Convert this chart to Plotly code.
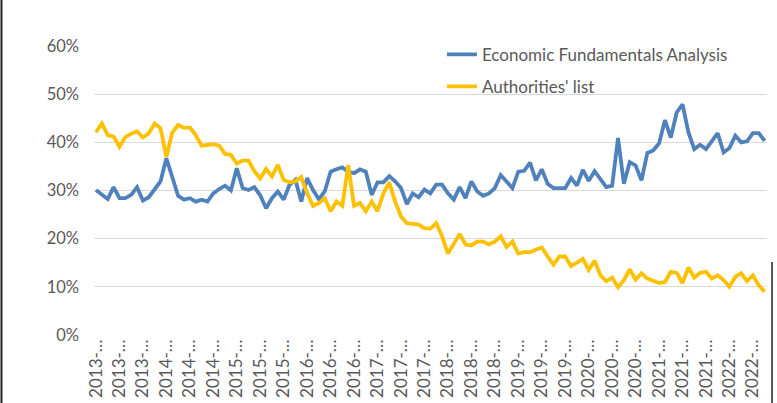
import plotly.graph_objects as go

years = list(range(2013, 2023))
months = [f"{y}-{m:02d}" for y in years for m in range(1, 13)][:115]

economic_fundamentals = [
    30.1, 29.1, 28.2, 30.7, 28.4, 28.4, 29.1, 30.7, 27.9, 28.6,
    30.3, 31.9, 36.7, 32.9, 28.9, 28.1, 28.4, 27.7, 28.1, 27.7,
    29.4, 30.3, 31.0, 30.0, 34.6, 30.5, 30.1, 30.7, 29.0, 26.3,
    28.4, 29.8, 28.1, 31.2, 32.2, 27.7, 32.6, 30.1, 28.2, 29.8,
    33.9, 34.4, 34.8, 33.9, 33.6, 34.4, 33.9, 29.1, 31.7, 31.7,
    33.0, 31.9, 30.5, 27.2, 29.4, 28.6, 30.2, 29.4, 31.2, 31.2,
    29.4, 28.1, 30.7, 28.4, 31.9, 29.8, 28.9, 29.4, 30.5, 33.2,
    31.7, 30.5, 33.9, 34.1, 35.8, 32.1, 34.4, 31.4, 30.5, 30.5,
    30.5, 32.6, 31.0, 34.3, 32.0, 34.0, 32.4, 30.7, 31.0, 40.9,
    31.4, 35.9, 35.2, 32.1, 37.8, 38.3, 39.8, 44.6, 41.0, 46.2,
    47.9, 42.1, 38.6, 39.5, 38.6, 40.2, 41.9, 37.9, 38.8, 41.4,
    40.0, 40.2, 41.9, 41.9, 40.3,
]

authorities_list = [
    42.1, 43.9, 41.5, 41.2, 39.1, 41.1, 41.8, 42.3, 41.0, 41.9,
    43.9, 42.9, 37.0, 42.0, 43.6, 43.0, 43.1, 41.5, 39.3, 39.5,
    39.6, 39.3, 37.6, 37.4, 35.6, 36.2, 36.2, 34.0, 32.5, 34.5,
    32.9, 35.3, 32.2, 31.7, 31.9, 32.8, 29.4, 26.8, 27.4, 28.4,
    25.7, 27.7, 26.8, 35.3, 26.8, 27.4, 25.7, 27.7, 25.7, 29.4,
    31.7, 27.7, 24.6, 23.2, 23.1, 22.9, 22.2, 22.1, 23.2, 20.5,
    16.9, 19.1, 21.0, 18.8, 18.6, 19.4, 19.4, 18.8, 19.4, 20.5,
    18.3, 19.4, 16.9, 17.2, 17.2, 17.7, 18.2, 16.3, 14.6, 16.3,
    16.3, 14.3, 15.1, 15.8, 13.5, 15.4, 12.4, 11.2, 11.9, 9.9,
    11.4, 13.6, 11.5, 12.8, 11.7, 11.2, 10.8, 11.0, 13.1, 12.9,
    10.8, 14.0, 11.9, 12.9, 13.1, 11.7, 12.4, 11.4, 10.0, 12.1,
    12.8, 11.2, 12.4, 10.3, 9.0,
]

series_names = ["Economic Fundamentals Analysis", "Authorities' list"]
series_colors = ["#4F81BD", "#FFC000"]

tick_idx = list(range(0, len(months), 4))
tick_text = [months[i][:5] + "…" for i in tick_idx]
y_ticks = [0, 10, 20, 30, 40, 50, 60]
y_tick_text = [f"{v}%" for v in y_ticks]

x_idx = list(range(len(months)))

fig = go.Figure()
for name, vals, col, grp in zip(series_names, [economic_fundamentals, authorities_list], series_colors, ["a", "b"]):
    fig.add_trace(go.Scatter(
        x=x_idx, y=vals, mode="lines", name=name, legendgroup=grp,
        line=dict(color=col, width=3.8),
        customdata=months,
        hovertemplate="%{customdata}: %{y:.1f}%<extra></extra>",
    ))

gray = "#595959"
fig.update_layout(
    width=777, height=403,
    margin=dict(l=94, r=10, t=46, b=68, autoexpand=False),
    paper_bgcolor="white", plot_bgcolor="white",
    font=dict(family="Lato", color=gray, size=16),
    showlegend=True,
    legend=dict(
        x=0.517, y=1.032, xanchor="left", yanchor="top",
        bgcolor="rgba(0,0,0,0)", font=dict(size=17, color=gray),
        tracegroupgap=7,
    ),
    xaxis=dict(
        range=[-0.34, 114.4],
        tickmode="array", tickvals=tick_idx, ticktext=tick_text,
        tickangle=-90, tickfont=dict(size=17, color=gray),
        showgrid=False, zeroline=False, showline=False, ticks="",
        automargin=False,
    ),
    yaxis=dict(
        range=[0, 60], tickmode="array", tickvals=y_ticks, ticktext=y_tick_text,
        tickfont=dict(size=16.5, color=gray),
        showgrid=True, gridcolor="#D9D9D9", gridwidth=1.3,
        zeroline=False, showline=False, ticks="",
        ticklabelstandoff=14, automargin=False,
    ),
    shapes=[
        dict(type="line", xref="paper", yref="paper",
             x0=-0.1375, x1=-0.1375, y0=-0.24, y1=1.16,
             line=dict(color="#202020", width=2)),
        dict(type="line", xref="paper", yref="paper",
             x0=1.0075, x1=1.0075, y0=-0.24, y1=(335 - 262) / 289,
             line=dict(color="#202020", width=1.5)),
    ],
)

fig.write_html(
    "out.html",
    config={"displayModeBar": False},
    post_script="document.body.style.margin='0';document.body.style.overflow='hidden';",
)
